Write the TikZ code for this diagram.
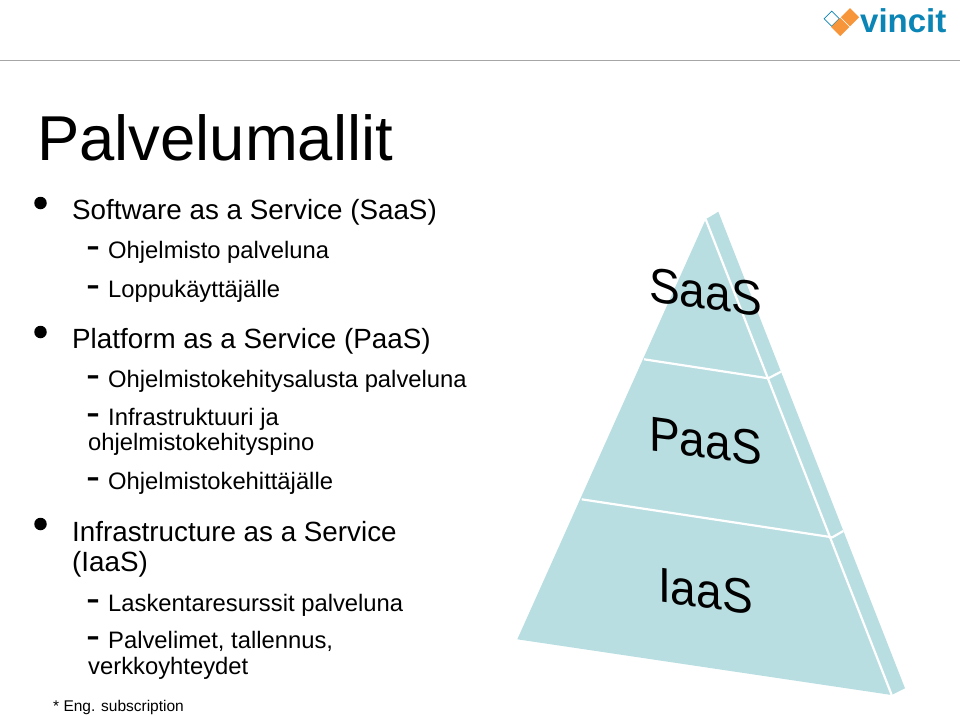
\documentclass[tikz,border=0pt]{standalone}
\usepackage{fontspec}
\setmainfont{Liberation Sans}
\usetikzlibrary{shapes.geometric}

\definecolor{pyramidblue}{HTML}{B9DEE1}
\definecolor{logoblue}{HTML}{0A85B5}
\definecolor{logoorange}{HTML}{F7953B}

\tikzset{
	title/.style={anchor=base west, inner sep=0pt, font=\fontsize{63.4}{63.4}\selectfont},
	level one/.style={anchor=base west, inner sep=0pt, font=\fontsize{27.8}{27.8}\selectfont},
	level two/.style={anchor=base west, inner sep=0pt, font=\fontsize{23.8}{23.8}\selectfont},
	dash mark/.style={anchor=base west, inner sep=0pt, font=\fontsize{42}{42}\selectfont},
	bullet/.style={circle, fill=black, inner sep=0pt, minimum size=12.5pt},
	label/.style={inner sep=0pt, yslant=-0.138, xscale=.94, font=\fontsize{49}{49}\selectfont},
	divider/.style={draw=white, line width=2.2pt},
	logo square/.style={diamond, aspect=1, inner sep=0pt, minimum size=18.5pt}
}

\begin{document}
\begin{tikzpicture}[x=1pt,y=-1pt]
	\useasboundingbox (0,0) rectangle (960,716);

	% header
	\coordinate (rule left) at (0,60.5);
	\coordinate (rule right) at (960,60.5);
	\draw[gray!70, line width=1.2pt] (rule left) -- (rule right);
	\node[logo square, draw=logoblue, line width=.8pt, minimum size=15.5pt] (logo open) at (831.7,18.7) {};
	\node[logo square, fill=logoorange] (logo upper) at (850,17.3) {};
	\node[logo square, fill=logoorange] (logo lower) at (840.3,27) {};
	\node[anchor=base west, inner sep=0pt, text=logoblue, font=\fontsize{33}{33}\selectfont\bfseries] (logo text) at (860,32.5) {vincit};

	% text
	\node[title] (title) at (37,160.5) {Palvelumallit};

	\foreach \y/\name in {203/saas,332/paas,524/iaas}
		\node[bullet] (bullet \name) at (40.5,\y) {};
	\foreach \y/\name in {259/a,298/b,388/c,426/d,490/e,612/f,649/g}
		\node[dash mark] (dash \name) at (86.5,\y) {-};

	\node[level one] (saas head) at (72,219.5) {Software as a Service (SaaS)};
	\node[level two] (saas a) at (108,258) {Ohjelmisto palveluna};
	\node[level two] (saas b) at (108,297) {Loppukäyttäjälle};

	\node[level one] (paas head) at (72,348.5) {Platform as a Service (PaaS)};
	\node[level two] (paas a) at (108,387) {Ohjelmistokehitysalusta palveluna};
	\node[level two] (paas b) at (108,425) {Infrastruktuuri ja};
	\node[level two] (paas b2) at (88,450) {ohjelmistokehityspino};
	\node[level two] (paas c) at (108,489) {Ohjelmistokehittäjälle};

	\node[level one] (iaas head) at (72,541.5) {Infrastructure as a Service};
	\node[level one] (iaas head2) at (72,571.5) {(IaaS)};
	\node[level two] (iaas a) at (108,611) {Laskentaresurssit palveluna};
	\node[level two] (iaas b) at (108,648) {Palvelimet, tallennus,};
	\node[level two] (iaas b2) at (88,674) {verkkoyhteydet};

	\node[anchor=base west, inner sep=0pt, font=\fontsize{15.5}{15.5}\selectfont] (note) at (53,711) {* Eng. subscription};

	% pyramid
	\coordinate (apex) at (705.7,219.3);
	\coordinate (apex back) at (718.3,211.7);
	\coordinate (base left) at (517.3,639.3);
	\coordinate (base right) at (891.7,695);
	\coordinate (base back) at (905,688.3);
	\coordinate (upper left) at (644,359.3);
	\coordinate (upper right) at (768.3,378.3);
	\coordinate (upper back) at (781,371.7);
	\coordinate (lower left) at (581.7,499.3);
	\coordinate (lower right) at (832.3,537.3);
	\coordinate (lower back) at (843.3,531);

	\fill[pyramidblue] (apex) -- (apex back) -- (base back) -- (base right) -- (base left) -- cycle;
	\draw[divider] (apex) -- (base right);
	\draw[divider] (upper left) -- (upper right) -- (upper back);
	\draw[divider] (lower left) -- (lower right) -- (lower back);

	\node[label] (saas label) at (705.5,292) {SaaS};
	\node[label] (paas label) at (705.5,441) {PaaS};
	\node[label] (iaas label) at (705.5,591) {IaaS};
\end{tikzpicture}
\end{document}
